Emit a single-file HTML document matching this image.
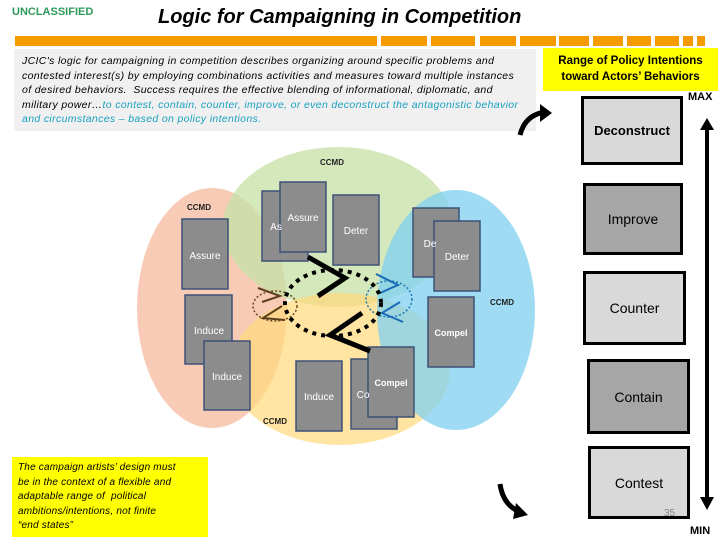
<!DOCTYPE html>
<html><head><meta charset="utf-8"><style>
*{margin:0;padding:0;box-sizing:border-box}
body{width:720px;height:540px;position:relative;background:#fff;font-family:"Liberation Sans",sans-serif;overflow:hidden}
.a{position:absolute}
.rb{position:absolute;border:3px solid #000;display:flex;align-items:center;justify-content:center;font-size:14px;color:#000}
</style></head><body>
<div class="a" style="left:12px;top:6px;font-size:11px;font-weight:bold;color:#2e9a5a">UNCLASSIFIED</div>
<div class="a" style="left:158px;top:6px;font-size:20px;font-style:italic;font-weight:bold;color:#000">Logic for Campaigning in Competition</div>
<div class="a" style="left:15px;top:36px;width:362px;height:10px;background:#f59a00"></div>
<div class="a" style="left:381px;top:36px;width:46px;height:10px;background:#f59a00"></div>
<div class="a" style="left:431px;top:36px;width:44px;height:10px;background:#f59a00"></div>
<div class="a" style="left:480px;top:36px;width:36px;height:10px;background:#f59a00"></div>
<div class="a" style="left:520px;top:36px;width:36px;height:10px;background:#f59a00"></div>
<div class="a" style="left:559px;top:36px;width:30px;height:10px;background:#f59a00"></div>
<div class="a" style="left:593px;top:36px;width:30px;height:10px;background:#f59a00"></div>
<div class="a" style="left:627px;top:36px;width:24px;height:10px;background:#f59a00"></div>
<div class="a" style="left:655px;top:36px;width:24px;height:10px;background:#f59a00"></div>
<div class="a" style="left:683px;top:36px;width:10px;height:10px;background:#f59a00"></div>
<div class="a" style="left:697px;top:36px;width:8px;height:10px;background:#f59a00"></div>
<div class="a" style="left:14px;top:49px;width:522px;height:82px;background:#f0f0f0;padding:5px 8px;font-size:10.5px;font-style:italic;line-height:14.6px;color:#000;white-space:nowrap;letter-spacing:0.35px;overflow:hidden">JCIC's logic for campaigning in competition describes organizing around specific problems and<br>contested interest(s) by employing combinations activities and measures toward multiple instances<br>of desired behaviors.&nbsp; Success requires the effective blending of informational, diplomatic, and<br>military power…<span style="color:#1aa0c0">to contest, contain, counter, improve, or even deconstruct the antagonistic behavior<br>and circumstances – based on policy intentions.</span></div>
<div class="a" style="left:543px;top:48px;width:175px;height:43px;background:#ffff00;font-size:11.5px;font-weight:bold;text-align:center;line-height:16px;padding-top:5px">Range of Policy Intentions<br>toward Actors’ Behaviors</div>

<svg class="a" style="left:0;top:0" width="720" height="540">
<ellipse cx="212" cy="308" rx="75" ry="120" fill="#f6b99f" opacity="0.75"/>
<ellipse cx="338" cy="227" rx="115" ry="80" fill="#c5e0a5" opacity="0.75"/>
<ellipse cx="340" cy="369" rx="110" ry="76" fill="#ffd87a" opacity="0.7"/>
<ellipse cx="456" cy="310" rx="79" ry="120" fill="#7fd0f0" opacity="0.75"/>
<g fill="#8c8c8c" stroke="#3d5276" stroke-width="1.5">
<rect x="182" y="219" width="46" height="70"/>
<rect x="185" y="295" width="47" height="69"/>
<rect x="204" y="341" width="46" height="69"/>
<rect x="262" y="191" width="46" height="70"/>
<rect x="280" y="182" width="46" height="70"/>
<rect x="333" y="195" width="46" height="70"/>
<rect x="413" y="208" width="46" height="69"/>
<rect x="434" y="221" width="46" height="70"/>
<rect x="428" y="297" width="46" height="70"/>
<rect x="296" y="361" width="46" height="70"/>
<rect x="351" y="359" width="46" height="70"/>
<rect x="368" y="347" width="46" height="70"/>
</g>
<g fill="#fff" font-family="Liberation Sans, sans-serif" font-size="10" text-anchor="middle">
<text x="205" y="259">Assure</text>
<text x="209" y="334">Induce</text>
<text x="227" y="380">Induce</text>
<text x="276" y="230">As</text>
<text x="303" y="221">Assure</text>
<text x="356" y="234">Deter</text>
<text x="430" y="247">De</text>
<text x="457" y="260">Deter</text>
<text x="451" y="336" font-weight="bold" font-size="9">Compel</text>
<text x="319" y="400">Induce</text>
<text x="363" y="398">Co</text>
<text x="391" y="386" font-weight="bold" font-size="9">Compel</text>
</g>
<g font-family="Liberation Sans, sans-serif" font-size="8" font-weight="bold" fill="#222">
<text x="320" y="165">CCMD</text>
<text x="187" y="210">CCMD</text>
<text x="490" y="305">CCMD</text>
<text x="263" y="424">CCMD</text>
</g>
<ellipse cx="275" cy="306" rx="22" ry="15" fill="none" stroke="#6a4a20" stroke-width="1.5" stroke-dasharray="2,2"/>
<polyline points="258,288 280,296 262,302" fill="none" stroke="#5a4020" stroke-width="2"/>
<polyline points="282,306 263,318 285,320" fill="none" stroke="#5a4020" stroke-width="2"/>
<ellipse cx="389" cy="299" rx="23" ry="18" fill="none" stroke="#1a7ab0" stroke-width="1.5" stroke-dasharray="2,2"/>
<polyline points="376,274 398,285 380,293" fill="none" stroke="#1a6ab8" stroke-width="2"/>
<polyline points="400,302 382,313 403,322" fill="none" stroke="#1a6ab8" stroke-width="2"/>
<ellipse cx="333" cy="303" rx="48" ry="33" fill="none" stroke="#000" stroke-width="4" stroke-dasharray="4,5"/>
<polyline points="308,257 345,278 318,296" fill="none" stroke="#000" stroke-width="5"/>
<polyline points="362,313 330,335 370,351" fill="none" stroke="#000" stroke-width="5"/>
<path d="M520,135 Q525,115 545,112" fill="none" stroke="#000" stroke-width="5"/>
<polygon points="540,104 552,113 540,122" fill="#000"/>
<path d="M500,484 Q503,505 520,512" fill="none" stroke="#000" stroke-width="5"/>
<polygon points="516,503 528,515 513,519" fill="#000"/>
<line x1="707" y1="128" x2="707" y2="500" stroke="#000" stroke-width="4"/>
<polygon points="700,130 707,118 714,130" fill="#000"/>
<polygon points="700,497 707,510 714,497" fill="#000"/>
</svg>

<div class="rb" style="left:581px;top:96px;width:102px;height:69px;background:#d9d9d9;font-weight:bold;font-size:13px">Deconstruct</div>
<div class="rb" style="left:583px;top:183px;width:100px;height:72px;background:#a6a6a6">Improve</div>
<div class="rb" style="left:583px;top:271px;width:103px;height:74px;background:#d9d9d9">Counter</div>
<div class="rb" style="left:587px;top:359px;width:103px;height:75px;background:#a6a6a6">Contain</div>
<div class="rb" style="left:588px;top:446px;width:102px;height:73px;background:#d9d9d9">Contest</div>
<div class="a" style="left:664px;top:508px;font-size:10px;color:#888">35</div>
<div class="a" style="left:688px;top:91px;font-size:11px;font-weight:bold">MAX</div>
<div class="a" style="left:690px;top:525px;font-size:11px;font-weight:bold">MIN</div>
<div class="a" style="left:12px;top:457px;width:196px;height:80px;background:#ffff00;padding:4px 6px;font-size:10px;font-style:italic;line-height:14.5px;white-space:nowrap;letter-spacing:0.2px">The campaign artists’ design must<br>be in the context of a flexible and<br>adaptable range of &nbsp;political<br>ambitions/intentions, not finite<br>“end states”</div>
</body></html>
